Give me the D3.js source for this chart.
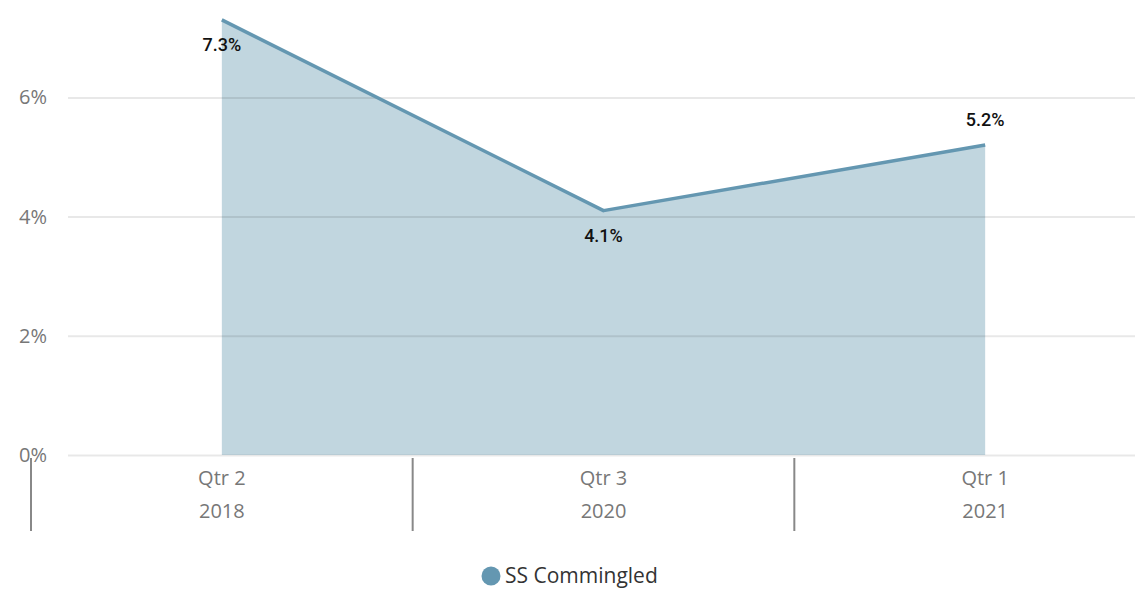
<!DOCTYPE html>
<meta charset="utf-8">
<style>
body { margin: 0; background: #fff; }
g.grid line { stroke: #000; stroke-opacity: 0.09; stroke-width: 2px; }
g.grid path { display: none; }
g.y.axis text { font-family: "Open Sans", sans-serif; font-size: 20px; fill: #777; }
g.y.axis path, g.y.axis line { display: none; }
text.xlab { font-family: "Open Sans", sans-serif; font-size: 20px; fill: #777; text-anchor: middle; }
text.dlabel { font-family: Roboto, sans-serif; font-size: 18px; font-weight: 500; fill: #111; text-anchor: middle; }
text.legend { font-family: "Open Sans", sans-serif; font-size: 21px; fill: #333; }
</style>
<body>
<div id="chart"></div>
<script src="https://cdn.jsdelivr.net/npm/d3@7"></script>
<script>
// Data
var quarters = ["Qtr 2", "Qtr 3", "Qtr 1"];
var years = ["2018", "2020", "2021"];
var values = [7.3, 4.1, 5.2];
var yTicks = [0, 2, 4, 6];
var seriesName = "SS Commingled";

var width = 1135, height = 590;
var lineColor = "#6497b1", areaColor = "#c1d6df";

var svg = d3.select("#chart").append("svg")
    .attr("width", width)
    .attr("height", height);

var keys = quarters.map(function (q, i) { return q + "|" + years[i]; });

// band scale runs past the right edge, like the clipped original
var x = d3.scaleBand()
    .domain(keys)
    .range([31, 1176])
    .padding(0);

var y = d3.scaleLinear()
    .domain([0, 7.5])
    .range([455, 8]);

function cx(i) { return x(keys[i]) + x.bandwidth() / 2; }

var pts = values.map(function (v, i) { return {i: i, v: v}; });

// area
var area = d3.area()
    .x(function (d) { return cx(d.i); })
    .y0(y(0))
    .y1(function (d) { return y(d.v); });

svg.append("path")
    .datum(pts)
    .attr("d", area)
    .attr("fill", areaColor);

// gridlines
svg.append("g")
    .attr("class", "grid")
    .attr("transform", "translate(68,0)")
    .call(d3.axisLeft(y).tickValues(yTicks).tickSize(-(width - 68)).tickFormat(""));

// y axis labels
svg.append("g")
    .attr("class", "y axis")
    .attr("transform", "translate(47,0)")
    .call(d3.axisLeft(y).tickValues(yTicks).tickSize(0).tickPadding(0)
        .tickFormat(function (d) { return d + "%"; }));

// line
var line = d3.line()
    .x(function (d) { return cx(d.i); })
    .y(function (d) { return y(d.v); });

svg.append("path")
    .datum(pts)
    .attr("d", line)
    .attr("fill", "none")
    .attr("stroke", lineColor)
    .attr("stroke-width", 3.5)
    .attr("stroke-linejoin", "round");

// data labels: below for first two, above for last
svg.selectAll("text.dlabel")
    .data(pts)
    .enter().append("text")
    .attr("class", "dlabel")
    .attr("x", function (d) { return cx(d.i); })
    .attr("y", function (d) { return d.i === 2 ? y(d.v) - 19 : y(d.v) + 31; })
    .text(function (d) { return d.v.toFixed(1) + "%"; });

// x category separators
svg.selectAll("line.sep")
    .data(keys)
    .enter().append("line")
    .attr("class", "sep")
    .attr("x1", function (d) { return x(d); })
    .attr("x2", function (d) { return x(d); })
    .attr("y1", 458)
    .attr("y2", 531)
    .attr("stroke", "#888")
    .attr("stroke-width", 2);

// x labels
svg.selectAll("text.xq")
    .data(keys)
    .enter().append("text")
    .attr("class", "xlab")
    .attr("x", function (d) { return x(d) + x.bandwidth() / 2; })
    .attr("y", 485)
    .text(function (d, i) { return quarters[i]; });

svg.selectAll("text.xy")
    .data(keys)
    .enter().append("text")
    .attr("class", "xlab")
    .attr("x", function (d) { return x(d) + x.bandwidth() / 2; })
    .attr("y", 518)
    .text(function (d, i) { return years[i]; });

// legend
svg.append("circle")
    .attr("cx", 491)
    .attr("cy", 576)
    .attr("r", 9.5)
    .attr("fill", lineColor);

svg.append("text")
    .attr("class", "legend")
    .attr("x", 505)
    .attr("y", 583)
    .text(seriesName);
</script>
